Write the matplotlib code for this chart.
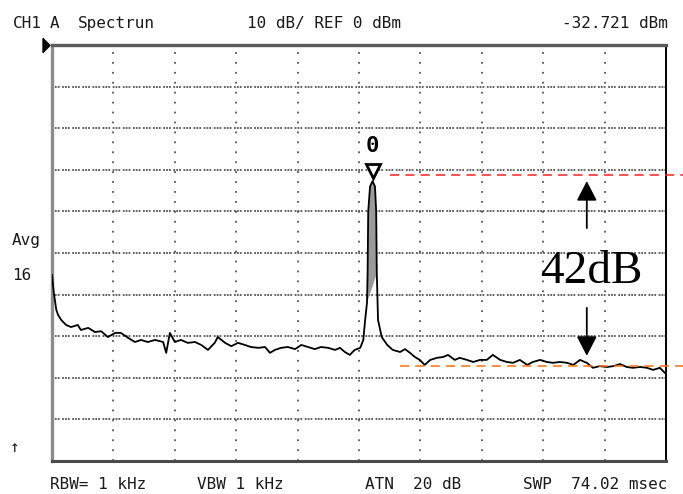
import numpy as np
import matplotlib
matplotlib.use("Agg")
import matplotlib.pyplot as plt
from matplotlib.path import Path
from matplotlib.transforms import offset_copy

# ---- measured trace: horizontal position in screen divisions, level in dBm ----
trace_div = [
    0.00, 0.03, 0.07, 0.10, 0.15, 0.23, 0.31, 0.42, 0.47, 0.59,
    0.70, 0.80, 0.91, 1.03, 1.12, 1.24, 1.35, 1.45, 1.56, 1.68,
    1.81, 1.86, 1.92, 2.00, 2.10, 2.21, 2.33, 2.43, 2.54, 2.65,
    2.70, 2.82, 2.92, 3.03, 3.14, 3.24, 3.36, 3.47, 3.55, 3.63,
    3.73, 3.84, 3.96, 4.06, 4.17, 4.28, 4.38, 4.50, 4.61, 4.69,
    4.77, 4.85, 4.93, 5.02, 5.07, 5.10, 5.13, 5.14, 5.15, 5.18,
    5.22, 5.26, 5.28, 5.29, 5.31, 5.37, 5.46, 5.55, 5.67, 5.75,
    5.83, 5.91, 5.99, 6.07, 6.16, 6.27, 6.37, 6.45, 6.56, 6.64,
    6.76, 6.86, 6.97, 7.08, 7.18, 7.30, 7.41, 7.51, 7.62, 7.74,
    7.83, 7.95, 8.06, 8.16, 8.27, 8.39, 8.49, 8.60, 8.71, 8.81,
    8.92, 9.04, 9.14, 9.25, 9.36, 9.46, 9.58, 9.69, 9.79, 9.90,
    9.98,
]
trace_dbm = [
    -55.3, -59.6, -63.7, -64.9, -66.1, -67.3, -67.8, -67.3, -68.5, -68.0,
    -69.0, -68.8, -70.2, -69.2, -69.2, -70.4, -71.4, -70.9, -71.4, -70.9,
    -71.4, -74.0, -69.2, -71.4, -70.9, -71.6, -71.4, -72.1, -73.3, -71.6,
    -70.2, -71.6, -72.4, -71.6, -72.1, -72.6, -72.8, -72.6, -74.0, -73.3,
    -72.8, -72.6, -73.1, -72.1, -72.6, -73.1, -72.6, -72.8, -73.3, -72.8,
    -73.8, -74.5, -73.3, -72.8, -70.9, -66.1, -62.0, -55.0, -40.0, -34.0,
    -32.721, -34.0, -40.0, -55.0, -66.1, -70.2, -72.1, -73.3, -73.8, -73.1,
    -74.0, -75.0, -75.7, -76.9, -75.7, -75.2, -75.0, -74.5, -75.7, -75.2,
    -75.7, -76.2, -75.7, -75.7, -74.5, -75.7, -76.2, -76.4, -75.7, -76.9,
    -76.2, -75.7, -76.2, -76.4, -76.2, -76.4, -76.9, -75.7, -76.4, -77.6,
    -77.2, -77.4, -77.2, -76.7, -77.4, -77.6, -77.4, -77.6, -78.1, -77.6,
    -78.8,
]

# instrument settings
ref_level_dbm = 0
db_per_div = 10
n_div_x, n_div_y = 10, 10
avg_count = 16
rbw_khz, vbw_khz = 1, 1
atten_db = 20
sweep_ms = 74.02

# annotation: carrier-to-floor difference
span_db = 42
ref_line_dbm = -31.2       # red dashed guide
floor_line_dbm = -77.2     # orange dashed guide
ref_line_start = 5.50
floor_line_start = 5.67
arrow_div = 8.71

x = np.array(trace_div)
y = np.array(trace_dbm)
ipk = int(np.argmax(y))
peak_div, peak_dbm = x[ipk], y[ipk]

W, H = 683, 494
fig = plt.figure(figsize=(W / 100, H / 100), dpi=100)
fig.patch.set_facecolor("white")
ax = fig.add_axes([52 / W, 1 - 461 / H, 614 / W, 416 / H])
ax.set_xlim(0, n_div_x)
ax.set_ylim(ref_level_dbm - n_div_y * db_per_div, ref_level_dbm)

# graticule
ax.set_xticks(np.arange(1, n_div_x))
ax.set_yticks(np.arange(ref_level_dbm - (n_div_y - 1) * db_per_div, ref_level_dbm, db_per_div))
ax.tick_params(length=0, labelbottom=False, labelleft=False)
ax.xaxis.grid(True, color="#555555", lw=1.3, linestyle=(0, (1, 4.5)))
ax.yaxis.grid(True, color="#555555", lw=1.3, linestyle=(0, (1, 0.6, 1, 0.6, 1, 1.4)))
ax.set_axisbelow(True)

for side, col, lw in [("left", "#8c8c8c", 2.4), ("top", "#5a5a5a", 2.4),
                      ("right", "#000000", 1.4), ("bottom", "#4a4a4a", 2.2)]:
    ax.spines[side].set_color(col)
    ax.spines[side].set_linewidth(lw)

# trace with shaded carrier column
pk = (x > 5.12) & (x < 5.30)
ax.fill(x[pk], y[pk], color="#9a9a9a", lw=0, zorder=2)
ax.plot(x, y, color="black", lw=1.3, solid_joinstyle="round", zorder=3)

# marker 0 on the carrier
tri_tr = offset_copy(ax.transData, fig=fig, x=0, y=10, units="dots")
ax.plot([peak_div], [peak_dbm], marker="v", ms=10, mfc="white", mec="black",
        mew=2.0, transform=tri_tr, clip_on=False, zorder=4)
ax.annotate("0", xy=(peak_div, peak_dbm), xytext=(0, 35), textcoords="offset pixels",
            ha="center", va="center", family="DejaVu Sans Mono", fontsize=16,
            fontweight="bold", zorder=4)

# reference level pointer on the top-left corner
ptr = Path([(-0.5, -1), (0.5, 0), (-0.5, 1), (-0.5, -1)],
           [Path.MOVETO, Path.LINETO, Path.LINETO, Path.CLOSEPOLY])
ax.plot([-0.09], [ref_level_dbm], marker=ptr, ms=10, color="black", clip_on=False)

# dashed guide lines
ax.plot([ref_line_start, 10.4], [ref_line_dbm] * 2, color="#ff2020", lw=1.1,
        dashes=(6, 4), clip_on=False, zorder=5)
ax.plot([floor_line_start, 10.4], [floor_line_dbm] * 2, color="#ff7010", lw=1.1,
        dashes=(6, 4), clip_on=False, zorder=5)

# 42 dB arrows and label
arrow_style = dict(arrowstyle="-|>,head_length=1.2,head_width=0.62", mutation_scale=10,
                   lw=1.3, color="black", shrinkA=0, shrinkB=0)
ax.annotate("", xy=(arrow_div, peak_dbm), xytext=(arrow_div, -44.0), arrowprops=arrow_style)
ax.annotate("", xy=(arrow_div, peak_dbm - span_db), xytext=(arrow_div, -63.2),
            arrowprops=arrow_style)
ax.text(8.78, -57.2, f"{span_db}dB", ha="center", va="baseline",
        family="Liberation Serif", fontsize=34)

# instrument annotations around the screen
mono = dict(family="DejaVu Sans Mono", fontsize=11.5, color="#1a1a1a", va="baseline")


def put(px, py, s, **kw):
    fig.text(px / W, 1 - py / H, s, **{**mono, **kw})


put(13, 28, "CH1")
put(50, 28, "A")
put(78, 28, "Spectrun")
put(247, 28, f"{db_per_div} dB/ REF {ref_level_dbm} dBm")
put(668, 28, f"{peak_dbm:.3f} dBm", ha="right")
put(12, 245, "Avg")
put(12, 280, f"{avg_count}")
put(15, 452, "\u2191", ha="center")
put(50, 489, f"RBW= {rbw_khz} kHz")
put(197, 489, f"VBW {vbw_khz} kHz")
put(365, 489, f"ATN  {atten_db} dB")
put(667, 489, f"SWP  {sweep_ms:.2f} msec", ha="right")

fig.savefig("out.png", dpi=100, facecolor="white")
